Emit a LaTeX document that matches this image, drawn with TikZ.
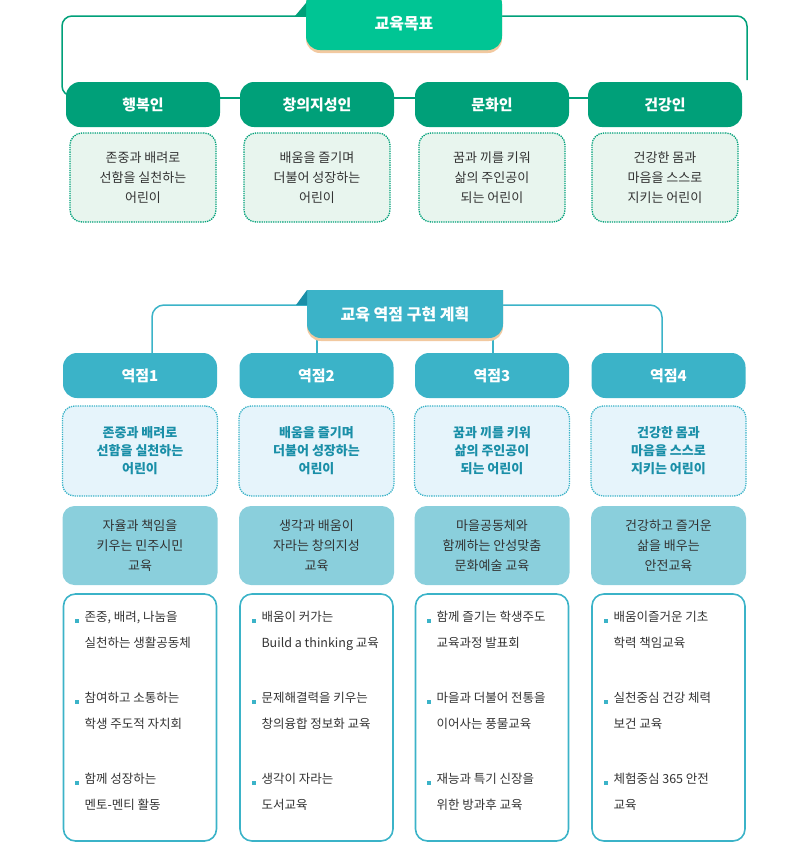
\documentclass[tikz,border=0pt]{standalone}
\usepackage{fontspec}
\setmainfont{Noto Sans CJK KR}
\begin{document}
\begin{tikzpicture}[x=1pt,y=-1pt,
  gpill/.style={fill=gdark,rounded corners=14pt,minimum width=154pt,minimum height=45pt,text=white,font=\fontsize{15}{18}\selectfont\bfseries},
  bpill/.style={fill=bmid,rounded corners=14pt,minimum width=154pt,minimum height=45pt,text=white,font=\fontsize{15}{18}\selectfont\bfseries},
  gdot/.style={draw=gdark,densely dotted,line width=1.3pt,fill=gpale,rounded corners=12pt,minimum width=146pt,minimum height=89pt,align=center,text=txt,font=\fontsize{13}{20}\selectfont},
  bdot/.style={draw=bmid,densely dotted,line width=1.3pt,fill=bpale,rounded corners=12pt,minimum width=155pt,minimum height=90pt,align=center,text=bdark,font=\fontsize{13}{18}\selectfont\bfseries},
  lbox/.style={fill=blight,rounded corners=12pt,minimum width=155pt,minimum height=79pt,align=center,text=txt,font=\fontsize{13}{20}\selectfont},
  wbox/.style={draw=bmid,line width=1.6pt,rounded corners=12pt,minimum width=153pt,minimum height=247pt},
  item/.style={anchor=north west,align=left,text=txt,font=\fontsize{12.5}{26}\selectfont},
  gline/.style={draw=gdark,line width=1.5pt},
  bline/.style={draw=bmid,line width=1.5pt}]
\definecolor{gdark}{HTML}{00A079}
\definecolor{glight}{HTML}{00C594}
\definecolor{gpale}{HTML}{E8F5EE}
\definecolor{bmid}{HTML}{3BB3C8}
\definecolor{bdark}{HTML}{1A8FA8}
\definecolor{bpale}{HTML}{E6F4FB}
\definecolor{blight}{HTML}{8ACFDC}
\definecolor{txt}{HTML}{333333}
\definecolor{shad}{HTML}{F2C9A0}
\useasboundingbox (0,0) rectangle (799,844);
% ---------- top section
\draw[gline,rounded corners=10pt] (306,16) -- (62,16) -- (62,96) -- (70,96);
\draw[gline,rounded corners=10pt] (502,16) -- (747,16) -- (747,80);
\draw[gline] (200,98) -- (600,98);
\fill[shad,rounded corners=14pt] (306,-10) rectangle (502,53);
\fill[glight,rounded corners=14pt] (306,-10) rectangle (502,50);
\fill[gdark] (295,16) -- (306,3) -- (306,16) -- cycle;
\node[text=white,font=\fontsize{16}{18}\selectfont\bfseries] (t1) at (404,24) {교육목표};
\foreach \i/\x/\a/\b in {1/143/행복인/{존중과 배려로\\선함을 실천하는\\어린이}, 2/317/창의지성인/{배움을 즐기며\\더불어 성장하는\\어린이}, 3/492/문화인/{꿈과 끼를 키워\\삶의 주인공이\\되는 어린이}, 4/665/건강인/{건강한 몸과\\마음을 스스로\\지키는 어린이}}{
  \node[gpill] (g\i) at (\x,104.5) {\a};
  \node[gdot] (gd\i) at (\x,177.5) {\b};
}
% ---------- bottom section
\draw[bline,rounded corners=12pt] (307,305) -- (152,305) -- (152,355);
\draw[bline,rounded corners=12pt] (503,305) -- (662,305) -- (662,355);
\draw[bline] (317,330) -- (317,355);
\draw[bline] (493,330) -- (493,355);
\fill[shad,rounded corners=14pt] (307,270) rectangle (503,341);
\fill[bmid,rounded corners=14pt] (307,270) rectangle (503,338);
\fill[white] (300,260) rectangle (510,290);
\fill[bmid] (307,290) rectangle (503,300);
\fill[bdark] (296,305) -- (307,290) -- (307,305) -- cycle;
\node[text=white,font=\fontsize{16}{18}\selectfont\bfseries] (t2) at (405,314) {교육 역점 구현 계획};
\foreach \i/\x/\a/\b/\c in {1/140/역점1/{존중과 배려로\\선함을 실천하는\\어린이}/{자율과 책임을\\키우는 민주시민\\교육}, 2/316.5/역점2/{배움을 즐기며\\더불어 성장하는\\어린이}/{생각과 배움이\\자라는 창의지성\\교육}, 3/492/역점3/{꿈과 끼를 키워\\삶의 주인공이\\되는 어린이}/{마을공동체와\\함께하는 안성맞춤\\문화예술 교육}, 4/668.5/역점4/{건강한 몸과\\마음을 스스로\\지키는 어린이}/{건강하고 즐거운\\삶을 배우는\\안전교육}}{
  \node[bpill] (p\i) at (\x,375.5) {\a};
  \node[bdot] (d\i) at (\x,451) {\b};
  \node[lbox] (l\i) at (\x,545.5) {\c};
  \node[wbox] (w\i) at (\x,717.5) {};
}
\foreach \i/\x/\a/\b/\c in {
 1/63/{존중, 배려, 나눔을\\실천하는 생활공동체}/{참여하고 소통하는\\학생 주도적 자치회}/{함께 성장하는\\멘토-멘티 활동},
 2/240/{배움이 커가는\\Build a thinking 교육}/{문제해결력을 키우는\\창의융합 정보화 교육}/{생각이 자라는\\도서교육},
 3/415/{함께 즐기는 학생주도\\교육과정 발표회}/{마을과 더불어 전통을\\이어사는 풍물교육}/{재능과 특기 신장을\\위한 방과후 교육},
 4/592/{배움이즐거운 기초\\학력 책임교육}/{실천중심 건강 체력\\보건 교육}/{체험중심 365 안전\\교육}}{
  \foreach \t/\y/\n in {{\a}/608/a, {\b}/689/b, {\c}/770/c}{
    \fill[bmid] ({\x+12},{\y+11}) rectangle ++(3.5,3.5);
    \node[item] (i\i\n) at ({\x+18},\y) {\t};
  }
}
\end{tikzpicture}
\end{document}
